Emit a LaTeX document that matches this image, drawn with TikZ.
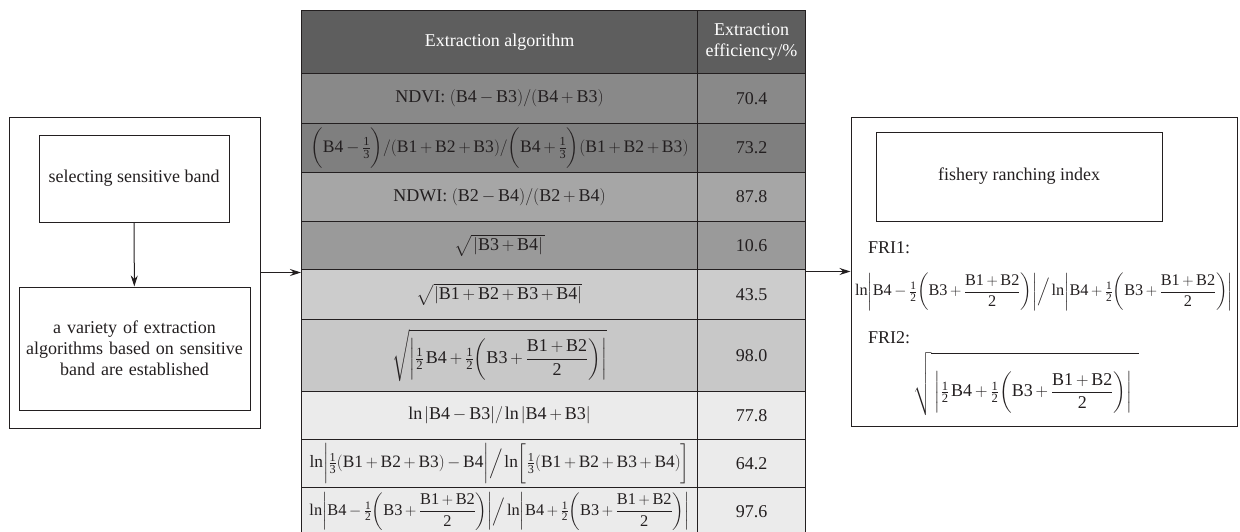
\documentclass[tikz,border=0pt]{standalone}
\usepackage{amsmath}
\usepackage{fontspec}
\setmainfont{Liberation Serif}
\setmathrm{Liberation Serif}
\usetikzlibrary{positioning,arrows.meta}
\definecolor{ink}{RGB}{35,31,32}
\definecolor{headgrey}{RGB}{94,94,94}
\definecolor{greyA}{RGB}{137,137,137}
\definecolor{greyB}{RGB}{127,127,127}
\definecolor{greyC}{RGB}{166,166,166}
\definecolor{greyD}{RGB}{154,154,154}
\definecolor{greyE}{RGB}{204,204,204}
\definecolor{greyF}{RGB}{200,200,200}
\definecolor{greyG}{RGB}{235,235,235}
\newcommand{\bnd}[1]{\mathrm{B#1}}
\newcommand{\hf}[1]{\tfrac{\mathrm{1}}{\mathrm{#1}}}
\newcommand{\halfmix}{\hf{2}\biggl(\bnd3+\dfrac{\bnd1+\bnd2}{\mathrm{2}}\biggr)}
\newcommand{\frione}{$\ln\biggl|\bnd4-\halfmix\biggr|\Big/\ln\biggl|\bnd4+\halfmix\biggr|$}
\medmuskip=3mu
\thickmuskip=3.5mu
\thinmuskip=2mu
\tikzset{
  txt/.style   ={font=\fontsize{18}{21}\selectfont, text=ink},
  fcell/.style ={txt, draw=ink, line width=1pt, anchor=north west,
                 minimum width=396, inner sep=0pt},
  vcell/.style ={txt, draw=ink, line width=1pt, anchor=north west,
                 minimum width=108, inner sep=0pt},
  box/.style   ={txt, draw=ink, line width=1pt, align=center, inner sep=0pt},
  ar/.style    ={-{Stealth[length=11pt,width=7pt]}, draw=ink, line width=1pt},
}

\begin{document}
\begin{tikzpicture}[x=1pt,y=-1pt]
\useasboundingbox (0,0) rectangle (1240,531);
% table
\node[fcell, fill=headgrey, minimum height=63, text=white] (h1) at (301,10) {Extraction algorithm};
\node[vcell, fill=headgrey, minimum height=63, text=white, align=center] (h2) at (697,10) {Extraction\\efficiency/\%};
\node[fcell, fill=greyA, minimum height=50] (r1) at (301,73) {NDVI: $(\bnd4-\bnd3)/(\bnd4+\bnd3)$};
\node[vcell, fill=greyA, minimum height=50] (v1) at (697,73) {70.4};
\node[fcell, fill=greyB, minimum height=49] (r2) at (301,123)
  {\resizebox{378pt}{!}{$\biggl(\bnd4-\hf{3}\biggr)/(\bnd1+\bnd2+\bnd3)/\biggl(\bnd4+\hf{3}\biggr)(\bnd1+\bnd2+\bnd3)$}};
\node[vcell, fill=greyB, minimum height=49] (v2) at (697,123) {73.2};
\node[fcell, fill=greyC, minimum height=49] (r3) at (301,172) {NDWI: $(\bnd2-\bnd4)/(\bnd2+\bnd4)$};
\node[vcell, fill=greyC, minimum height=49] (v3) at (697,172) {87.8};
\node[fcell, fill=greyD, minimum height=48] (r4) at (301,221) {$\sqrt{\,|\bnd3+\bnd4|\,}$};
\node[vcell, fill=greyD, minimum height=48] (v4) at (697,221) {10.6};
\node[fcell, fill=greyE, minimum height=50] (r5) at (301,269) {$\sqrt{|\bnd1+\bnd2+\bnd3+\bnd4|}$};
\node[vcell, fill=greyE, minimum height=50] (v5) at (697,269) {43.5};
\node[fcell, fill=greyF, minimum height=72] (r6) at (301,319)
  {$\sqrt{\rule{0pt}{30pt}\biggl|\hf{2}\,\bnd4+\halfmix\biggr|}$};
\node[vcell, fill=greyF, minimum height=72] (v6) at (697,319) {98.0};
\node[fcell, fill=greyG, minimum height=48] (r7) at (301,391) {$\ln|\bnd4-\bnd3|/\ln|\bnd4+\bnd3|$};
\node[vcell, fill=greyG, minimum height=48] (v7) at (697,391) {77.8};
\node[fcell, fill=greyG, minimum height=48] (r8) at (301,439)
  {\resizebox{380pt}{!}{$\ln\biggl|\hf{3}(\bnd1+\bnd2+\bnd3)-\bnd4\biggr|\Big/\ln\biggl[\hf{3}(\bnd1+\bnd2+\bnd3+\bnd4)\biggr]$}};
\node[vcell, fill=greyG, minimum height=48] (v8) at (697,439) {64.2};
\node[fcell, fill=greyG, minimum height=48] (r9) at (301,487) {\resizebox{380pt}{!}{\frione}};
\node[vcell, fill=greyG, minimum height=48] (v9) at (697,487) {97.6};
% left part
\node[box, minimum width=251, minimum height=311] (lframe) at (134.5,272.5) {};
\node[box, minimum width=190, minimum height=87] (sel) at (134,178.5) {selecting sensitive band};
\node[box, minimum width=231, minimum height=123, text width=220] (alg) at (134.5,348.5)
  {a variety of extraction\\algorithms based on sensitive\\band are established};
\draw[ar] (sel) -- (alg);
\draw[ar] (lframe.east) -- (lframe.east -| h1.west);
% right part
\node[box, minimum width=386, minimum height=309] (rframe) at (1044,271.5) {};
\node[box, minimum width=286, minimum height=89] (fri) at (1019,176.5) {fishery ranching index};
\node[txt, anchor=base west, inner sep=0pt] (fri1) at (868,253) {FRI1:};
\node[txt, inner sep=0pt] (fri1f) at (1044,292) {\resizebox{378pt}{!}{\frione}};
\node[txt, anchor=base west, inner sep=0pt] (fri2) at (868,343) {FRI2:};
\node[txt, inner sep=0pt] (fri2f) at (1026,384)
  {$\sqrt{\;\rule{0pt}{40pt}\biggl|\hf{2}\,\bnd4+\halfmix\biggr|\;\;}$};
\draw[ar] (rframe.west -| h2.east) -- (rframe.west);
\end{tikzpicture}
\end{document}
